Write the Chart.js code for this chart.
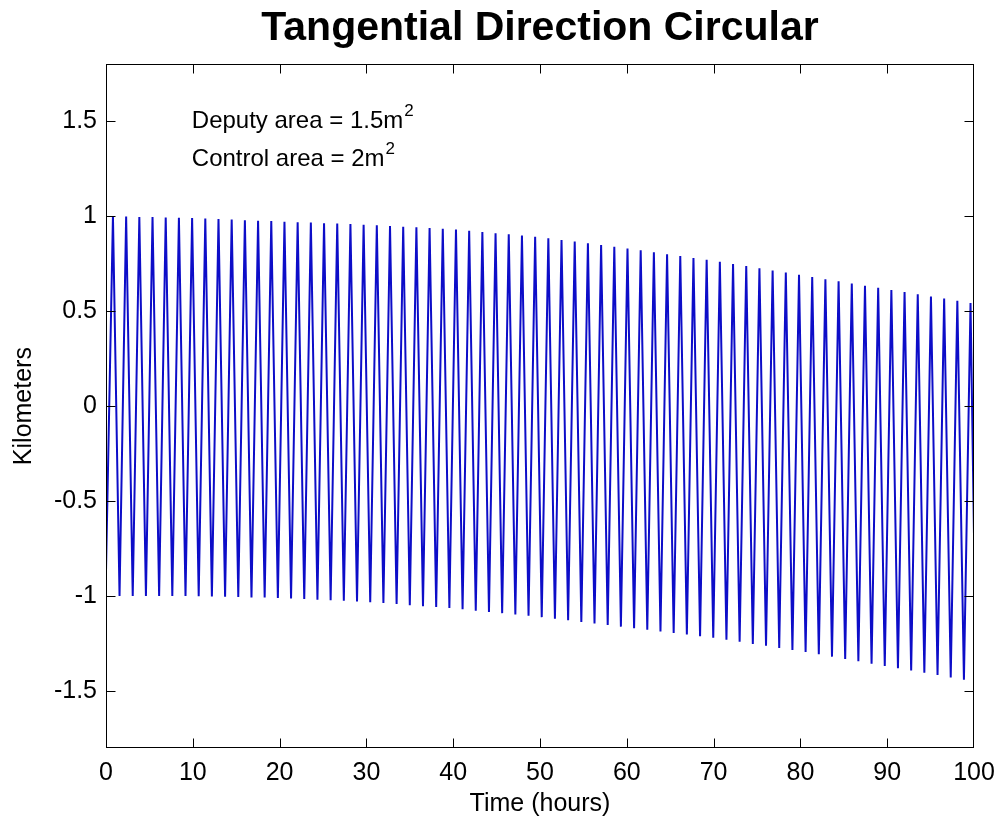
<!DOCTYPE html>
<html>
<head>
<meta charset="utf-8">
<title>Tangential Direction Circular</title>
<script src="https://cdn.jsdelivr.net/npm/chart.js@4.4.1/dist/chart.umd.min.js"></script>
<style>
  html, body { margin: 0; padding: 0; background: #fff; }
  canvas { display: block; }
</style>
</head>
<body>
<canvas id="chart" width="998" height="822"></canvas>
<script>
// crest of each swing (hours, km)
var peakHours = [0.80, 2.32, 3.84, 5.36, 6.88, 8.40, 9.92, 11.44, 12.96, 14.48,
  16.00, 17.52, 19.04, 20.56, 22.08, 23.60, 25.12, 26.64, 28.16, 29.68,
  31.20, 32.72, 34.24, 35.76, 37.28, 38.80, 40.32, 41.84, 43.36, 44.88,
  46.40, 47.92, 49.44, 50.96, 52.48, 54.00, 55.52, 57.04, 58.56, 60.08,
  61.60, 63.12, 64.64, 66.16, 67.68, 69.20, 70.72, 72.24, 73.76, 75.28,
  76.80, 78.32, 79.84, 81.36, 82.88, 84.40, 85.92, 87.44, 88.96, 90.48,
  92.00, 93.52, 95.04, 96.56, 98.08, 99.60];
var peakKm = [0.999, 0.998, 0.996, 0.995, 0.993, 0.992, 0.990, 0.987, 0.985, 0.982,
  0.979, 0.976, 0.974, 0.971, 0.968, 0.966, 0.963, 0.961, 0.958, 0.955,
  0.952, 0.948, 0.944, 0.941, 0.937, 0.933, 0.929, 0.923, 0.917, 0.910,
  0.904, 0.898, 0.892, 0.884, 0.875, 0.866, 0.857, 0.848, 0.839, 0.829,
  0.820, 0.810, 0.800, 0.790, 0.780, 0.770, 0.760, 0.748, 0.737, 0.725,
  0.714, 0.703, 0.691, 0.680, 0.668, 0.657, 0.646, 0.634, 0.623, 0.611,
  0.600, 0.589, 0.577, 0.566, 0.554, 0.543];

// bottom of each swing (hours, km)
var troughHours = [1.56, 3.08, 4.60, 6.12, 7.64, 9.16, 10.68, 12.20, 13.72, 15.24,
  16.76, 18.28, 19.80, 21.32, 22.84, 24.36, 25.88, 27.40, 28.92, 30.44,
  31.96, 33.48, 35.00, 36.52, 38.04, 39.56, 41.08, 42.60, 44.12, 45.64,
  47.16, 48.68, 50.20, 51.72, 53.24, 54.76, 56.28, 57.80, 59.32, 60.84,
  62.36, 63.88, 65.40, 66.92, 68.44, 69.96, 71.48, 73.00, 74.52, 76.04,
  77.56, 79.08, 80.60, 82.12, 83.64, 85.16, 86.68, 88.20, 89.72, 91.24,
  92.76, 94.28, 95.80, 97.32, 98.84];
var troughKm = [-1.000, -1.000, -1.000, -1.000, -1.000, -1.000, -1.001, -1.002, -1.004, -1.005,
  -1.007, -1.008, -1.010, -1.013, -1.016, -1.019, -1.022, -1.025, -1.028, -1.032,
  -1.037, -1.042, -1.048, -1.053, -1.058, -1.063, -1.070, -1.077, -1.084, -1.090,
  -1.097, -1.104, -1.111, -1.119, -1.128, -1.136, -1.145, -1.153, -1.161, -1.170,
  -1.178, -1.186, -1.195, -1.203, -1.211, -1.220, -1.230, -1.241, -1.252, -1.262,
  -1.273, -1.284, -1.295, -1.307, -1.319, -1.331, -1.343, -1.356, -1.368, -1.380,
  -1.392, -1.404, -1.416, -1.429, -1.441];

// first and last samples
var edgeHours = [0, 100];
var edgeKm = [-0.87, -0.68];

var hourTicks = [0, 10, 20, 30, 40, 50, 60, 70, 80, 90, 100];
var kmTicks = [-1.5, -1, -0.5, 0, 0.5, 1, 1.5];

var noteLines = ['Deputy area = 1.5m', 'Control area = 2m'];
var noteSup = '2';

var FONT = '"Liberation Sans", Arial, Helvetica, sans-serif';

// merge everything into one time-ordered trace
var points = [];
edgeHours.forEach(function(h, i) { points.push({x: h, y: edgeKm[i]}); });
peakHours.forEach(function(h, i) { points.push({x: h, y: peakKm[i]}); });
troughHours.forEach(function(h, i) { points.push({x: h, y: troughKm[i]}); });
points.sort(function(a, b) { return a.x - b.x; });

// white page, boxed axes with inward ticks, and the text notes
var boxAxes = {
	id: 'boxAxes',
	beforeDraw: function(chart) {
		var ctx = chart.ctx;
		ctx.save();
		ctx.fillStyle = '#fff';
		ctx.fillRect(0, 0, chart.width, chart.height);
		ctx.restore();
	},
	afterDraw: function(chart) {
		var ctx = chart.ctx, a = chart.chartArea;
		var xs = chart.scales.x, ys = chart.scales.y;
		var L = Math.round(a.left) + 0.5, R = Math.round(a.right) - 0.5;
		var T = Math.round(a.top) + 0.5, B = Math.round(a.bottom) - 0.5;
		var len = 9;
		ctx.save();
		ctx.strokeStyle = '#000';
		ctx.lineWidth = 1;
		ctx.strokeRect(L, T, R - L, B - T);
		ctx.beginPath();
		xs.ticks.forEach(function(t) {
			var px = Math.round(xs.getPixelForValue(t.value)) + 0.5;
			if (px > R) px = R;
			ctx.moveTo(px, B); ctx.lineTo(px, B - len);
			ctx.moveTo(px, T); ctx.lineTo(px, T + len);
		});
		ys.ticks.forEach(function(t) {
			var py = Math.round(ys.getPixelForValue(t.value)) + 0.5;
			ctx.moveTo(L, py); ctx.lineTo(L + len, py);
			ctx.moveTo(R, py); ctx.lineTo(R - len, py);
		});
		ctx.stroke();

		ctx.fillStyle = '#000';
		ctx.textBaseline = 'middle';
		ctx.textAlign = 'left';
		noteLines.forEach(function(txt, i) {
			var x = xs.getPixelForValue(10) - 1;
			var y = ys.getPixelForValue(1.5 - 0.2 * i);
			ctx.font = '24px ' + FONT;
			ctx.fillText(txt, x, y);
			var w = ctx.measureText(txt).width;
			ctx.font = '17px ' + FONT;
			ctx.fillText(noteSup, x + w + 1, y - 10);
		});
		ctx.restore();
	}
};

new Chart(document.getElementById('chart'), {
	type: 'line',
	data: {
		datasets: [{
			data: points,
			borderColor: '#0d0dc8',
			borderWidth: 2,
			pointRadius: 0,
			tension: 0,
			fill: false
		}]
	},
	options: {
		responsive: false,
		animation: false,
		events: [],
		layout: { padding: { top: 0, right: 24, bottom: 0, left: 0 } },
		plugins: {
			legend: { display: false },
			tooltip: { enabled: false },
			title: {
				display: true,
				fullSize: false,
				text: 'Tangential Direction Circular',
				color: '#000',
				font: { family: FONT, size: 41, weight: 'bold', lineHeight: 1.2 },
				padding: { top: 4, bottom: 11 }
			}
		},
		scales: {
			x: {
				type: 'linear',
				min: 0,
				max: 100,
				afterBuildTicks: function(s) { s.ticks = hourTicks.map(function(v) { return {value: v}; }); },
				afterFit: function(s) { s.height = 74; s.paddingLeft = 0; s.paddingRight = 0; },
				grid: { display: false, drawTicks: false },
				border: { display: false },
				ticks: {
					color: '#000',
					font: { family: FONT, size: 25 },
					padding: 10,
					maxRotation: 0,
					autoSkip: false,
					callback: function(v) { return String(v); }
				},
				title: {
					display: true,
					text: 'Time (hours)',
					color: '#000',
					font: { family: FONT, size: 25 },
					padding: { top: 0, bottom: 3 }
				}
			},
			y: {
				type: 'linear',
				min: -1.8,
				max: 1.8,
				afterBuildTicks: function(s) { s.ticks = kmTicks.map(function(v) { return {value: v}; }); },
				afterFit: function(s) { s.width = 106; s.paddingTop = 0; s.paddingBottom = 0; },
				grid: { display: false, drawTicks: false },
				border: { display: false },
				ticks: {
					color: '#000',
					font: { family: FONT, size: 25 },
					padding: 9,
					callback: function(v) { return String(v); }
				},
				title: {
					display: true,
					text: 'Kilometers',
					color: '#000',
					font: { family: FONT, size: 25 },
					padding: { top: 9, bottom: 0 }
				}
			}
		}
	},
	plugins: [boxAxes]
});
</script>
</body>
</html>
